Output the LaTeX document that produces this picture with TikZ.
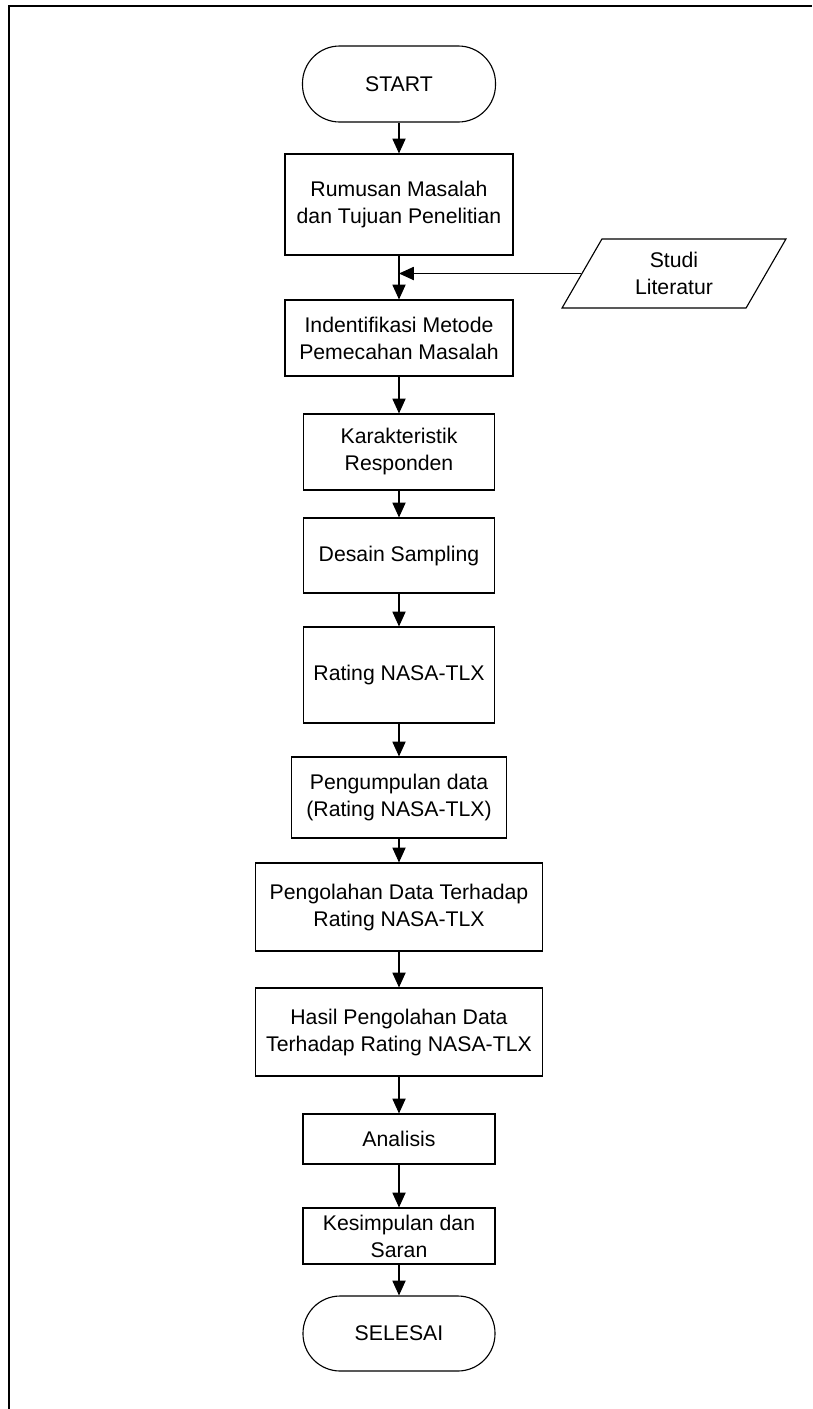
\documentclass[tikz,border=0pt]{standalone}
\usepackage{fontspec}
\setmainfont{Liberation Sans}
\usetikzlibrary{arrows.meta,shapes.geometric}

\begin{document}
\begin{tikzpicture}[x=0.025cm, y=-0.025cm, line width=0.8pt,
  every node/.style={align=center, font=\fontsize{15.1}{19.2}\selectfont},
  kotak/.style={draw, inner sep=2pt},
  terminal/.style={draw, rounded corners=0.93cm, inner sep=2pt},
  masukan/.style={draw, trapezium, trapezium left angle=64.4,
    trapezium right angle=115.6, trapezium stretches=true, inner sep=2pt},
  panah/.style={-{Triangle[width=0.33cm,length=0.37cm]}}]

  % --- Parameter ---
  \def\px{0.025cm}   % ein Pixel der Vorlage
  \def\mitte{399}    % x-Achse der Hauptspalte

  \useasboundingbox (0,0) rectangle (812,1409);

  % --- Rahmen (nur oben und links) ---
  \draw (9,1409) -- (9,6) -- (812,6);

  % --- Hauptspalte ---
  \node (start) at (\mitte,84) [terminal, minimum width=193*\px, minimum height=76*\px] {START};
  \node (rumusan) at (\mitte,204.5) [kotak, minimum width=228*\px, minimum height=101*\px]
    {Rumusan Masalah\\dan Tujuan Penelitian};
  \node (identifikasi) at (\mitte,338) [kotak, minimum width=228*\px, minimum height=76*\px]
    {Indentifikasi Metode\\Pemecahan Masalah};
  \node (karakteristik) at (\mitte,452) [kotak, minimum width=191*\px, minimum height=76*\px]
    {Karakteristik\\Responden};
  \node (desain) at (\mitte,555.5) [kotak, minimum width=191*\px, minimum height=75*\px]
    {Desain Sampling};
  \node (rating) at (\mitte,675) [kotak, minimum width=191*\px, minimum height=96*\px]
    {Rating NASA-TLX};
  \node (pengumpulan) at (\mitte,797.5) [kotak, minimum width=215*\px, minimum height=81*\px]
    {Pengumpulan data\\(Rating NASA-TLX)};
  \node (pengolahan) at (\mitte,907) [kotak, minimum width=287*\px, minimum height=88*\px]
    {Pengolahan Data Terhadap\\Rating NASA-TLX};
  \node (hasil) at (\mitte,1032) [kotak, minimum width=287*\px, minimum height=88*\px]
    {Hasil Pengolahan Data\\Terhadap Rating NASA-TLX};
  \node (analisis) at (\mitte,1139) [kotak, minimum width=192*\px, minimum height=50*\px]
    {Analisis};
  \node (kesimpulan) at (\mitte,1236) [kotak, minimum width=192*\px, minimum height=56*\px]
    {Kesimpulan dan\\Saran};
  \node (selesai) at (\mitte,1333.5) [terminal, minimum width=192*\px, minimum height=75*\px]
    {SELESAI};

  % --- Eingabe rechts ---
  \node (studi) at (674,273.5) [masukan, minimum width=225*\px, minimum height=69*\px]
    {Studi\\Literatur};
  \coordinate (temu) at (rumusan.south |- studi.left side);

  % --- Verbindungen ---
  \draw[panah] (start) -- (rumusan);
  \draw[panah] (rumusan) -- (identifikasi);
  \draw[panah] (studi.left side) -- (temu);
  \draw[panah] (identifikasi) -- (karakteristik);
  \draw[panah] (karakteristik) -- (desain);
  \draw[panah] (desain) -- (rating);
  \draw[panah] (rating) -- (pengumpulan);
  \draw[panah] (pengumpulan) -- (pengolahan);
  \draw[panah] (pengolahan) -- (hasil);
  \draw[panah] (hasil) -- (analisis);
  \draw[panah] (analisis) -- (kesimpulan);
  \draw[panah] (kesimpulan) -- (selesai);

\end{tikzpicture}
\end{document}
